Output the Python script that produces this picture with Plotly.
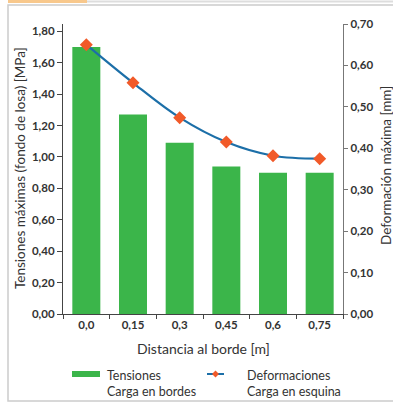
import plotly.graph_objects as go

categories = ["0,0", "0,15", "0,3", "0,45", "0,6", "0,75"]
tensiones = [1.70, 1.27, 1.09, 0.94, 0.90, 0.90]
deformaciones = [0.650, 0.558, 0.474, 0.415, 0.382, 0.375]
y1_ticks = [0, 0.2, 0.4, 0.6, 0.8, 1.0, 1.2, 1.4, 1.6, 1.8]
y2_ticks = [0, 0.1, 0.2, 0.3, 0.4, 0.5, 0.6, 0.7]

W, H = 393, 403
L, R, T, B = 63, 50, 24, 89
PW, PH = W - L - R, H - T - B


def px(x):
    return (x - L) / PW


def py(y):
    return (H - B - y) / PH


GREEN = "#3bb54a"
BLUE = "#1c6fa8"
ORANGE = "#f15a29"
TXT = "#333333"
FONT = "Lato"

fig = go.Figure()
fig.add_trace(go.Bar(x=categories, y=tensiones, marker=dict(color=GREEN, line=dict(width=0)),
                     width=0.6, showlegend=False, yaxis="y"))
fig.add_trace(go.Scatter(x=categories, y=deformaciones, mode="lines+markers",
                         line=dict(color=BLUE, width=2.2, shape="spline", smoothing=1.0),
                         marker=dict(symbol="diamond", size=10, color=ORANGE),
                         showlegend=False, yaxis="y2"))

shapes = [
    # frame
    dict(type="rect", xref="paper", yref="paper", x0=px(8), x1=px(400), y0=py(401), y1=py(5),
         line=dict(color="#cccccc", width=1.5), layer="below"),
    dict(type="rect", xref="paper", yref="paper", x0=px(8), x1=px(87), y0=py(3), y1=py(0),
         fillcolor="#f8c88c", line=dict(width=0)),
    dict(type="line", xref="paper", yref="paper", x0=px(87), x1=px(393), y0=py(1.5), y1=py(1.5),
         line=dict(color="#dddddd", width=2)),
    # legend symbols
    dict(type="rect", xref="paper", yref="paper", x0=px(72), x1=px(100), y0=py(377), y1=py(371),
         fillcolor=GREEN, line=dict(width=0)),
    dict(type="line", xref="paper", yref="paper", x0=px(207), x1=px(224), y0=py(374), y1=py(374),
         line=dict(color=BLUE, width=2)),
    dict(type="path", xref="paper", yref="paper",
         path=f"M {px(215.5)} {py(370.5)} L {px(219)} {py(374)} L {px(215.5)} {py(377.5)} L {px(212)} {py(374)} Z",
         fillcolor=ORANGE, line=dict(width=0)),
]

annotations = [
    dict(xref="paper", yref="paper", x=px(105), y=py(366), xanchor="left", yanchor="top",
         text="Tensiones<br>Carga en bordes", showarrow=False, align="left",
         font=dict(family=FONT, size=12.5, color=TXT)),
    dict(xref="paper", yref="paper", x=px(245), y=py(366), xanchor="left", yanchor="top",
         text="Deformaciones<br>Carga en esquina", showarrow=False, align="left",
         font=dict(family=FONT, size=12.5, color=TXT)),
    # axis titles
    dict(xref="paper", yref="paper", x=px(203), y=py(348), xanchor="center", yanchor="middle",
         text="Distancia al borde [m]", showarrow=False,
         font=dict(family=FONT, size=14, color=TXT)),
    dict(xref="paper", yref="paper", x=px(20), y=py(168), xanchor="center", yanchor="middle",
         text="Tensiones máximas (fondo de losa) [MPa]", showarrow=False, textangle=-90,
         font=dict(family=FONT, size=13.5, color=TXT)),
    dict(xref="paper", yref="paper", x=px(386), y=py(166), xanchor="center", yanchor="middle",
         text="Deformación máxima [mm]", showarrow=False, textangle=-90,
         font=dict(family=FONT, size=13.5, color=TXT)),
]

fig.update_layout(
    width=W, height=H,
    margin=dict(l=L, r=R, t=T, b=B, autoexpand=False),
    paper_bgcolor="white", plot_bgcolor="white",
    separators=",.",
    font=dict(family=FONT, color=TXT),
    bargap=0.4,
    xaxis=dict(type="category", showline=True, linecolor="#444444", linewidth=1.2,
               ticks="outside", tickson="boundaries", ticklen=4, tickcolor="#444444",
               tickfont=dict(family=FONT, size=11.5, color=TXT, weight="bold"),
               showgrid=False, zeroline=False, automargin=False),
    yaxis=dict(range=[0, 1.847], tickvals=y1_ticks, tickformat=".2f", showline=True,
               linecolor="#444444", linewidth=1.2, ticks="outside", ticklen=5, tickcolor="#444444",
               tickfont=dict(family=FONT, size=11.5, color=TXT, weight="bold"),
               showgrid=False, zeroline=False, automargin=False),
    yaxis2=dict(range=[0, 0.7], tickvals=y2_ticks, tickformat=".2f", overlaying="y", side="right",
                showline=True, linecolor="#777777", linewidth=1.2, ticks="outside", ticklen=4,
                tickcolor="#777777",
                tickfont=dict(family=FONT, size=11.5, color=TXT, weight="bold"),
                showgrid=False, zeroline=False, automargin=False),
    shapes=shapes,
    annotations=annotations,
)

fig.write_html("out.html", config={"displayModeBar": False},
               post_script="document.body.style.margin='0';document.body.style.overflow='hidden';")
